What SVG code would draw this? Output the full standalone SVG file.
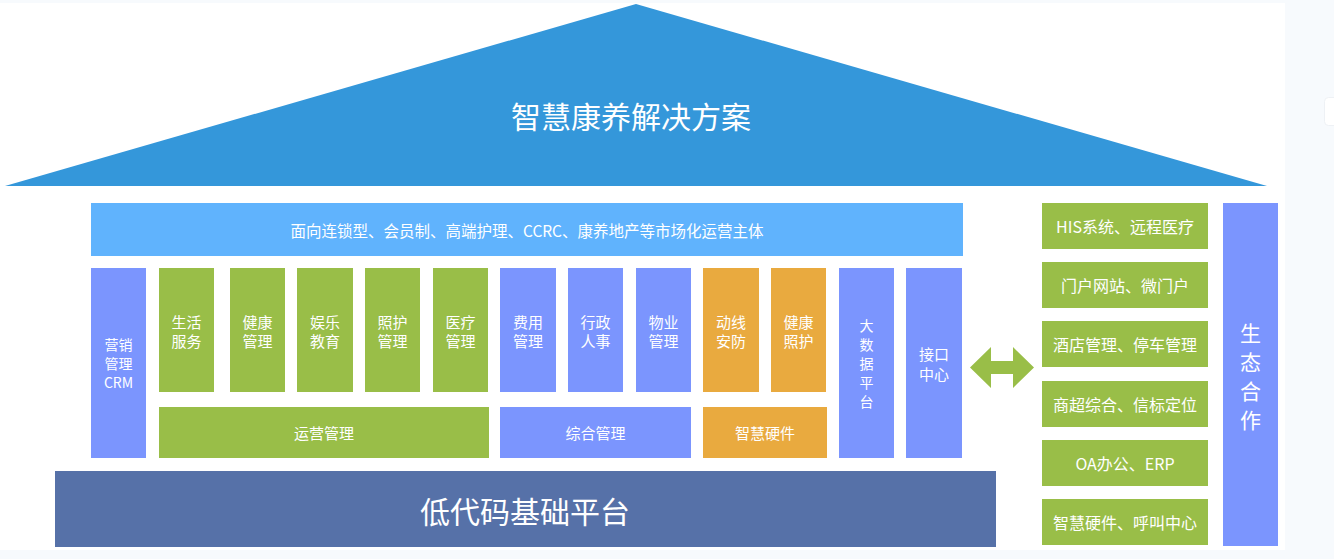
<svg xmlns="http://www.w3.org/2000/svg" width="1334" height="559" viewBox="0 0 1334 559">
<style>
text{font-family:"Microsoft YaHei","Noto Sans CJK SC","Noto Sans",sans-serif;fill:#fff;text-anchor:middle;dominant-baseline:central}
.g{fill:#99BE48}
.b{fill:#7B95FE}
.o{fill:#E9AA3F}
.t15{font-size:15px}
.t14{font-size:14px}
.t16{font-size:16px}
</style>
<rect x="0" y="0" width="1334" height="559" fill="#F7FAFD"/>
<rect x="0" y="3" width="1285" height="547" fill="#FFFFFF"/>
<rect x="1324.500" y="97.500" width="20" height="28" rx="4" fill="#FFFFFF" stroke="#EEF1F5"/>
<g id="roof">
<polygon points="636,4 1267,186 5,186" fill="#3497DA"/>
<text x="631" y="115" font-size="30">智慧康养解决方案</text>
</g>
<g id="market">
<rect x="91" y="203" width="872" height="53" fill="#60B3FD"/>
<text x="527" y="230" font-size="15.5">面向连锁型、会员制、高端护理、CCRC、康养地产等市场化运营主体</text>
</g>
<g id="crm"><rect class="b" x="91" y="268" width="55" height="190"/><text class="t14" x="118.500" y="344">营销</text><text class="t14" x="118.500" y="363">管理</text><text class="t14" x="118.500" y="382">CRM</text></g>
<g id="life"><rect class="g" x="159" y="268" width="55" height="124"/><text class="t15" x="186.500" y="321">生活</text><text class="t15" x="186.500" y="340">服务</text></g>
<g id="health"><rect class="g" x="230" y="268" width="55" height="124"/><text class="t15" x="257.500" y="321">健康</text><text class="t15" x="257.500" y="340">管理</text></g>
<g id="edu"><rect class="g" x="297" y="268" width="56" height="124"/><text class="t15" x="325" y="321">娱乐</text><text class="t15" x="325" y="340">教育</text></g>
<g id="care"><rect class="g" x="365" y="268" width="55" height="124"/><text class="t15" x="392.500" y="321">照护</text><text class="t15" x="392.500" y="340">管理</text></g>
<g id="medical"><rect class="g" x="433" y="268" width="55" height="124"/><text class="t15" x="460.500" y="321">医疗</text><text class="t15" x="460.500" y="340">管理</text></g>
<g id="ops"><rect class="g" x="159" y="407" width="330" height="51"/><text class="t15" x="324" y="432">运营管理</text></g>
<g id="fee"><rect class="b" x="500" y="268" width="56" height="124"/><text class="t15" x="528" y="321">费用</text><text class="t15" x="528" y="340">管理</text></g>
<g id="hr"><rect class="b" x="568" y="268" width="55" height="124"/><text class="t15" x="595.500" y="321">行政</text><text class="t15" x="595.500" y="340">人事</text></g>
<g id="property"><rect class="b" x="636" y="268" width="55" height="124"/><text class="t15" x="663.500" y="321">物业</text><text class="t15" x="663.500" y="340">管理</text></g>
<g id="general"><rect class="b" x="500" y="407" width="191" height="51"/><text class="t15" x="595.500" y="432">综合管理</text></g>
<g id="security"><rect class="o" x="703" y="268" width="56" height="124"/><text class="t15" x="731" y="321">动线</text><text class="t15" x="731" y="340">安防</text></g>
<g id="healthcare"><rect class="o" x="771" y="268" width="55" height="124"/><text class="t15" x="798.500" y="321">健康</text><text class="t15" x="798.500" y="340">照护</text></g>
<g id="hardware"><rect class="o" x="703" y="407" width="124" height="51"/><text class="t15" x="765" y="432">智慧硬件</text></g>
<g id="bigdata"><rect class="b" x="839" y="268" width="55" height="190"/><text class="t14" x="866.500" y="325">大</text><text class="t14" x="866.500" y="344">数</text><text class="t14" x="866.500" y="363">据</text><text class="t14" x="866.500" y="382">平</text><text class="t14" x="866.500" y="401">台</text></g>
<g id="api"><rect class="b" x="906" y="268" width="56" height="190"/><text class="t15" x="934" y="353">接口</text><text class="t15" x="934" y="373">中心</text></g>
<g id="lowcode"><rect x="55" y="471" width="941" height="76" fill="#5671A8"/><text x="525" y="510" font-size="30">低代码基础平台</text></g>
<g id="connectors">
<polygon points="970,367.500 991,347 991,361 1013,361 1013,347 1034,367.500 1013,388 1013,374 991,374 991,388" fill="#99BE48"/>
</g>
<g id="his"><rect class="g" x="1042" y="203" width="166" height="46"/><text class="t16" x="1125" y="226">HIS系统、远程医疗</text></g>
<g id="portal"><rect class="g" x="1042" y="262" width="166" height="46"/><text class="t16" x="1125" y="285">门户网站、微门户</text></g>
<g id="hotel"><rect class="g" x="1042" y="321" width="166" height="46"/><text class="t16" x="1125" y="344">酒店管理、停车管理</text></g>
<g id="mall"><rect class="g" x="1042" y="381" width="166" height="46"/><text class="t16" x="1125" y="404">商超综合、信标定位</text></g>
<g id="oa"><rect class="g" x="1042" y="440" width="166" height="46"/><text class="t16" x="1125" y="463">OA办公、ERP</text></g>
<g id="call"><rect class="g" x="1042" y="499" width="166" height="46"/><text class="t16" x="1125" y="522">智慧硬件、呼叫中心</text></g>
<g id="eco"><rect class="b" x="1223" y="203" width="55" height="343"/><text x="1250.500" y="332" font-size="21">生</text><text x="1250.500" y="361" font-size="21">态</text><text x="1250.500" y="390" font-size="21">合</text><text x="1250.500" y="419" font-size="21">作</text></g>
</svg>
